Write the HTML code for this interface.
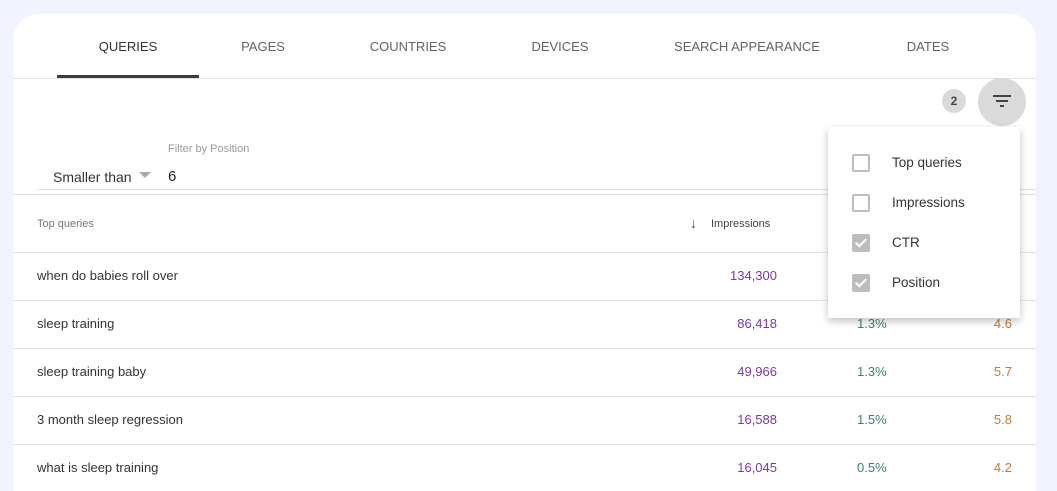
<!DOCTYPE html>
<html><head><style>
html,body{margin:0;width:1057px;height:491px;overflow:hidden}
body{background:#f1f4fd;font-family:"Liberation Sans",sans-serif;position:relative}
.card{position:absolute;left:13px;top:14px;width:1023px;height:477px;background:#fff;border-radius:26px 26px 0 0}
.a{position:absolute;white-space:nowrap}
.tab{position:absolute;top:39px;font-size:13px;color:#5f6368;text-align:center}
.hl{position:absolute;left:13px;width:1023px;height:1px;background:#e2e2e2}
.q{position:absolute;left:37px;font-size:13px;color:#333}
.imp{position:absolute;right:280px;font-size:13px;color:#7b35a8}
.ctr{position:absolute;left:857px;font-size:13px;color:#2e8a6e}
.pos{position:absolute;right:45px;font-size:13px;color:#c47a33}
.cb{position:absolute;left:852px;width:18px;height:18px;border:2px solid #bdbdbd;border-radius:2px;box-sizing:border-box}
.cb.on{background:#bdbdbd}
.cb.on:after{content:"";position:absolute;left:4px;top:0px;width:4px;height:9px;border:solid #fff;border-width:0 2px 2px 0;transform:rotate(45deg)}
.ml{position:absolute;left:892px;font-size:13.5px;color:#333}
</style></head><body>
<div class="card"></div>
<div class="tab" style="left:57px;width:142px;color:#333">QUERIES</div>
<div class="tab" style="left:220px;width:86px">PAGES</div>
<div class="tab" style="left:358px;width:100px">COUNTRIES</div>
<div class="tab" style="left:520px;width:80px">DEVICES</div>
<div class="tab" style="left:662px;width:170px">SEARCH APPEARANCE</div>
<div class="tab" style="left:890px;width:76px">DATES</div>
<div class="a" style="left:57px;top:75px;width:142px;height:3px;background:#3c3c3c"></div>
<div class="hl" style="top:78px"></div>
<div class="a" style="left:942px;top:89px;width:24px;height:24px;border-radius:50%;background:#dadada;font-size:12px;font-weight:bold;color:#444;text-align:center;line-height:24px">2</div>
<div class="a" style="left:978px;top:78px;width:48px;height:48px;border-radius:50%;background:#dadada"></div>
<div class="a" style="left:993px;top:95px;width:18px;height:2px;background:#444"></div>
<div class="a" style="left:996px;top:100px;width:12px;height:2px;background:#444"></div>
<div class="a" style="left:1000px;top:105px;width:4px;height:2px;background:#444"></div>
<div class="a" style="left:168px;top:143px;font-size:11px;color:#999">Filter by Position</div>
<div class="a" style="left:53px;top:169px;font-size:14px;color:#333">Smaller than</div>
<div class="a" style="left:139px;top:172px;width:0;height:0;border-left:6px solid transparent;border-right:6px solid transparent;border-top:6px solid #aaa"></div>
<div class="a" style="left:168px;top:168px;font-size:15px;color:#222">6</div>
<div class="a" style="left:37px;top:189px;width:999px;height:1px;background:#e2e2e2"></div>
<div class="hl" style="top:194px"></div>
<div class="q" style="top:218px;font-size:11px;color:#777">Top queries</div>
<div class="a" style="left:690px;top:215px;font-size:14px;color:#444">↓</div>
<div class="a" style="left:711px;top:218px;font-size:11px;color:#444">Impressions</div>
<div class="hl" style="top:252px"></div>
<div class="hl" style="top:300px"></div>
<div class="hl" style="top:348px"></div>
<div class="hl" style="top:396px"></div>
<div class="hl" style="top:444px"></div>
<div class="q" style="top:268px">when do babies roll over</div><div class="imp" style="top:268px">134,300</div>
<div class="q" style="top:316px">sleep training</div><div class="imp" style="top:316px">86,418</div><div class="ctr" style="top:316px">1.3%</div><div class="pos" style="top:316px">4.6</div>
<div class="q" style="top:364px">sleep training baby</div><div class="imp" style="top:364px">49,966</div><div class="ctr" style="top:364px">1.3%</div><div class="pos" style="top:364px">5.7</div>
<div class="q" style="top:412px">3 month sleep regression</div><div class="imp" style="top:412px">16,588</div><div class="ctr" style="top:412px">1.5%</div><div class="pos" style="top:412px">5.8</div>
<div class="q" style="top:460px">what is sleep training</div><div class="imp" style="top:460px">16,045</div><div class="ctr" style="top:460px">0.5%</div><div class="pos" style="top:460px">4.2</div>
<div class="a" style="left:828px;top:127px;width:192px;height:191px;background:#fff;box-shadow:0 3px 8px rgba(0,0,0,0.25);border-radius:2px"></div>
<div class="cb" style="top:154px"></div><div class="ml" style="top:155px">Top queries</div>
<div class="cb" style="top:194px"></div><div class="ml" style="top:195px">Impressions</div>
<div class="cb on" style="top:234px"></div><div class="ml" style="top:235px">CTR</div>
<div class="cb on" style="top:274px"></div><div class="ml" style="top:275px">Position</div>
</body></html>
